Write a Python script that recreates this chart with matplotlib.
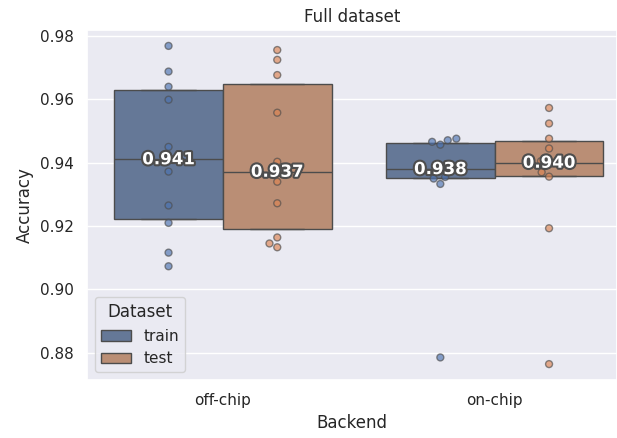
import numpy as np
import pandas as pd
import matplotlib
matplotlib.use("Agg")
import matplotlib.pyplot as plt
import matplotlib.patheffects as pe
import seaborn as sns

# Accuracy per run, grouped by backend and dataset split
offchip_train = [0.9769, 0.9688, 0.9640, 0.9599, 0.9450, 0.9372,
                 0.9265, 0.9210, 0.9116, 0.9073]
offchip_test = [0.9756, 0.9725, 0.9677, 0.9558, 0.9403, 0.9340,
                0.9272, 0.9164, 0.9145, 0.9133]
onchip_train = [0.9476, 0.9471, 0.9466, 0.9457, 0.9385, 0.9375,
                0.9355, 0.9350, 0.9333, 0.8785]
onchip_test = [0.9573, 0.9524, 0.9476, 0.9445, 0.9405, 0.9395,
               0.9370, 0.9356, 0.9193, 0.8764]

backends = ["off-chip", "on-chip"]
datasets = ["train", "test"]

rows = []
for backend, ds, vals in [("off-chip", "train", offchip_train),
                          ("off-chip", "test", offchip_test),
                          ("on-chip", "train", onchip_train),
                          ("on-chip", "test", onchip_test)]:
    for v in vals:
        rows.append({"Backend": backend, "Dataset": ds, "Accuracy": v})
df = pd.DataFrame(rows)

sns.set_theme(style="darkgrid")
fig = plt.figure(figsize=(6.17, 4.38), dpi=100)
ax = fig.add_axes([87/617, 58/438, 530/617, 350/438])

sns.boxplot(data=df, x="Backend", y="Accuracy", hue="Dataset",
            order=backends, hue_order=datasets, whis=0,
            showfliers=False, saturation=0.5, ax=ax)
sns.swarmplot(data=df, x="Backend", y="Accuracy", hue="Dataset",
              order=backends, hue_order=datasets, dodge=True,
              size=5, alpha=0.65, linewidth=1, edgecolor="0.3",
              legend=False, ax=ax)

# Median value written on each box
med = df.groupby(["Backend", "Dataset"])["Accuracy"].median()
for i, b in enumerate(backends):
    for j, d in enumerate(datasets):
        m = med[(b, d)]
        ax.text(i - 0.2 + 0.4 * j, m, f"{m:.3f}", ha="center",
                va="center", color="white", fontweight="bold",
                fontsize=12,
                path_effects=[pe.withStroke(linewidth=3,
                                            foreground="0.3")])

ax.set_xlim(-0.5, 1.45)
ax.set_title("Full dataset")
ax.legend(title="Dataset", loc="lower left")
fig.savefig("out.png", dpi=100)
